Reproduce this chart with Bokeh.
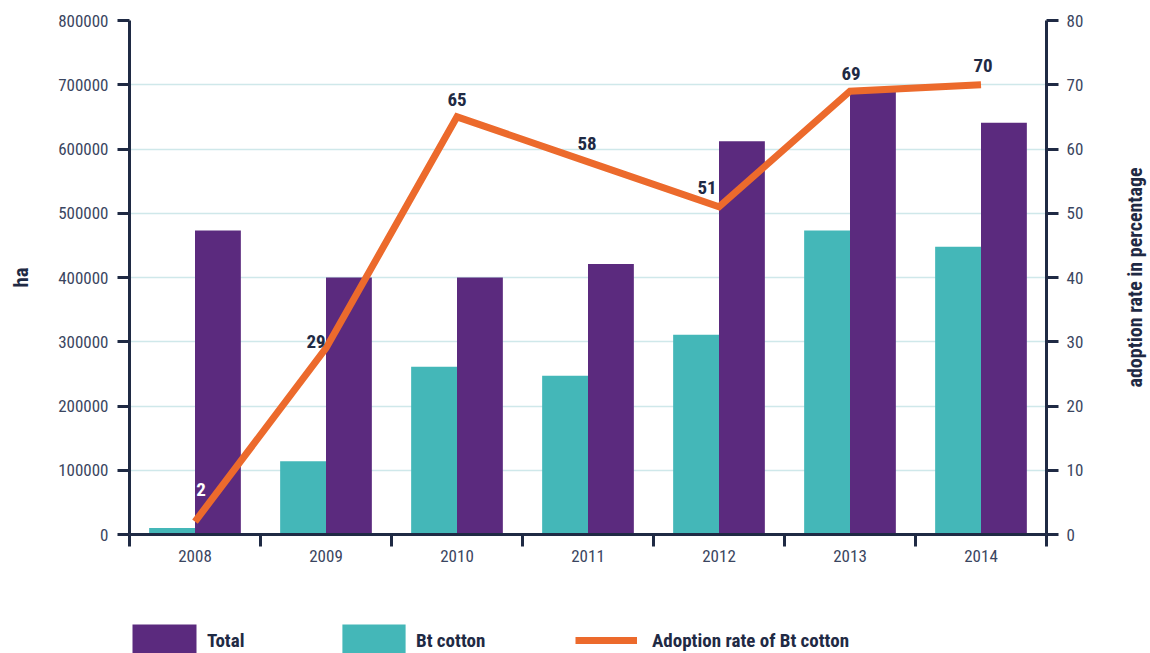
import math
from bokeh.plotting import figure
from bokeh.layouts import column, row
from bokeh.models import Range1d, LinearAxis, FixedTicker, ColumnDataSource, Legend, LegendItem
from bokeh.core.properties import value
from bokeh.embed import file_html
from bokeh.resources import INLINE

years = ["2008", "2009", "2010", "2011", "2012", "2013", "2014"]
total_ha = [473000, 400000, 400000, 421000, 612000, 691000, 641000]
bt_ha = [10000, 114000, 261000, 247000, 311000, 473000, 448000]
adoption = [2, 29, 65, 58, 51, 69, 70]
adoption_labels = ["2", "29", "65", "58", "51", "69", "70"]
legend_labels = ["Total", "Bt cotton", "Adoption rate of Bt cotton"]
right_axis_title = "adoption rate in percentage"

FONT = "'Roboto Condensed', 'Noto Sans Condensed', 'Open Sans Condensed', 'DejaVu Sans Condensed', 'Liberation Sans Narrow', Roboto, sans-serif"
NAVY = "#1f2a44"
TICKC = "#3a4560"
PURPLE = "#5b2a7e"
TEAL = "#44b7b8"
ORANGE = "#ec6a2c"
GRID = "#cfe8ea"

centers = [i + 0.5 for i in range(len(years))]
bar_w = 0.35

p = figure(width=1110, height=620, output_backend="svg", toolbar_location=None,
           x_range=Range1d(0, 7), y_range=Range1d(0, 800000),
           min_border_left=129, min_border_right=64, min_border_top=20, min_border_bottom=86)
p.outline_line_color = None
p.extra_y_ranges = {"pct": Range1d(0, 80)}

src = ColumnDataSource(dict(
    x=centers,
    xb=[c - bar_w / 2 for c in centers],
    xt=[c + bar_w / 2 for c in centers],
    total=total_ha, bt=bt_ha, rate=adoption, lab=adoption_labels,
    dx=[6, -10, 0, -1, -12, 1, 2],
    dy=[-32, -7, -17, -18, -19, -18, -19],
    col=["#ffffff"] + [NAVY] * 6,
))

r_bt = p.vbar(x="xb", top="bt", width=bar_w, source=src, fill_color=TEAL, line_color=None)
r_tot = p.vbar(x="xt", top="total", width=bar_w, source=src, fill_color=PURPLE, line_color=None)
r_line = p.line(x="x", y="rate", source=src, y_range_name="pct", line_color=ORANGE,
                line_width=7, line_join="miter")
p.text(x="x", y="rate", text="lab", source=src, y_range_name="pct", x_offset="dx", y_offset="dy",
       text_align="center", text_baseline="middle", text_font=value(FONT),
       text_font_size="19px", text_font_style="bold", text_color="col")


def style_axis(ax):
    ax.axis_line_color = NAVY
    ax.axis_line_width = 3
    ax.major_tick_line_color = NAVY
    ax.major_tick_line_width = 3
    ax.minor_tick_line_color = None
    ax.major_label_text_font = FONT
    ax.major_label_text_font_size = "17px"
    ax.major_label_text_color = TICKC
    ax.axis_label_text_font = FONT
    ax.axis_label_text_font_style = "bold"
    ax.axis_label_text_color = NAVY


yl = p.yaxis[0]
style_axis(yl)
yl.ticker = FixedTicker(ticks=list(range(0, 800001, 100000)))
yl.formatter.use_scientific = False
yl.major_tick_out = 12
yl.major_tick_in = 0
yl.major_label_standoff = 9
yl.axis_label = "ha"
yl.axis_label_text_font_size = "21px"
yl.axis_label_standoff = 22

yr = LinearAxis(y_range_name="pct", ticker=FixedTicker(ticks=list(range(0, 81, 10))))
style_axis(yr)
yr.major_tick_out = 12
yr.major_tick_in = 0
yr.major_label_standoff = 8
p.add_layout(yr, "right")

xa = p.xaxis[0]
style_axis(xa)
xa.ticker = FixedTicker(ticks=centers, minor_ticks=list(range(0, 8)))
xa.major_label_overrides = {c: y for c, y in zip(centers, years)}
xa.major_tick_out = 0
xa.major_tick_in = 0
xa.minor_tick_line_color = NAVY
xa.minor_tick_line_width = 3
xa.minor_tick_out = 12
xa.minor_tick_in = 0
xa.major_label_standoff = 3

p.xgrid.visible = False
p.ygrid.ticker = FixedTicker(ticks=list(range(100000, 800001, 100000)))
p.ygrid.grid_line_color = GRID
p.ygrid.grid_line_width = 1.5

# narrow strip holding the right axis title, reading bottom-to-top, centred on the frame
tf = figure(width=40, height=620, output_backend="svg", toolbar_location=None,
            x_range=Range1d(0, 1), y_range=Range1d(0, 1), x_axis_type=None, y_axis_type=None,
            min_border_left=0, min_border_right=0, min_border_top=20, min_border_bottom=86)
tf.outline_line_color = None
tf.grid.visible = False
tf.text(x=[0.62], y=[0.5], text=[right_axis_title], angle=math.pi / 2,
        text_align="center", text_baseline="middle", text_font=value(FONT),
        text_font_size="20px", text_font_style="bold", text_color=NAVY)

# legend strip below the chart
lf = figure(width=1150, height=33, output_backend="svg", toolbar_location=None,
            x_range=Range1d(0, 1), y_range=Range1d(0, 1), x_axis_type=None, y_axis_type=None,
            min_border_left=129, min_border_right=0, min_border_top=0, min_border_bottom=0)
lf.outline_line_color = None
lf.grid.visible = False
l_tot = lf.vbar(x=[0.5], top=[0], bottom=[0], width=0.0, fill_color=PURPLE, line_color=None)
l_bt = lf.vbar(x=[0.5], top=[0], bottom=[0], width=0.0, fill_color=TEAL, line_color=None)
l_line = lf.line(x=[0.5, 0.5], y=[0.5, 0.5], line_color=ORANGE, line_width=7, line_alpha=1.0)

for label, rend, xpos, gw, stand in [(legend_labels[0], l_tot, -5, 80, 3),
                                     (legend_labels[1], l_bt, 205, 79, 3),
                                     (legend_labels[2], l_line, 446, 62, 15)]:
    lg = Legend(items=[LegendItem(label=label, renderers=[rend])], location=(xpos, -7),
                glyph_width=gw, glyph_height=40, label_standoff=stand, padding=0, margin=0,
                border_line_alpha=0, background_fill_alpha=0,
                label_text_font=FONT, label_text_font_size="19px", label_text_font_style="bold",
                label_text_color=NAVY, label_height=40)
    lf.add_layout(lg, "center")

page = column(row(p, tf, spacing=0), lf, spacing=0)
open("out.html", "w").write(file_html(page, INLINE))
